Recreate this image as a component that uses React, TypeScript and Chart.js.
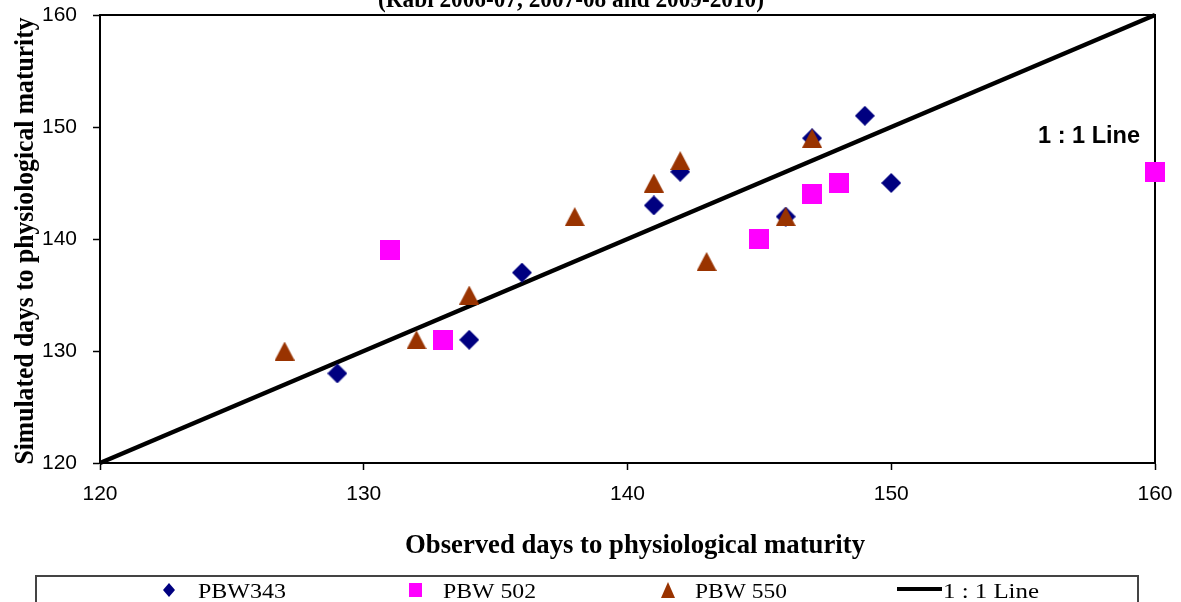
import React, { useEffect, useRef } from "react";
import { Chart, registerables } from "chart.js";

Chart.register(...registerables);

// ---- data ----
const pbw343X = [129, 134, 136, 141, 142, 146, 147, 149, 150];
const pbw343Y = [128, 131, 137, 143, 146, 142, 149, 151, 145];
const pbw502X = [131, 133, 145, 147, 148, 160];
const pbw502Y = [139, 131, 140, 144, 145, 146];
const pbw550X = [127, 132, 134, 138, 141, 142, 143, 146, 147];
const pbw550Y = [130, 131, 135, 142, 145, 147, 138, 142, 149];
const oneToOneX = [120, 160];
const oneToOneY = [120, 160];
const axisMin = 120;
const axisMax = 160;
const tickStep = 10;
const seriesNames = ["PBW343", "PBW 502", "PBW 550", "1 : 1 Line"];
const chartTitle = "(Rabi 2006-07, 2007-08 and 2009-2010)";
const xTitle = "Observed days to physiological maturity";
const yTitle = "Simulated days to physiological maturity";
const lineLabel = "1 : 1 Line";

const NAVY = "#000080";
const MAGENTA = "#FF00FF";
const BROWN = "#993300";

const toPoints = (xs: number[], ys: number[]) => xs.map((x, i) => ({ x, y: ys[i] }));

function makeMarker(kind: string, w: number, h: number, color: string) {
  const c = document.createElement("canvas");
  c.width = w;
  c.height = h;
  const g = c.getContext("2d")!;
  g.fillStyle = color;
  g.beginPath();
  if (kind === "diamond") {
    g.moveTo(w / 2, 0);
    g.lineTo(w, h / 2);
    g.lineTo(w / 2, h);
    g.lineTo(0, h / 2);
  } else if (kind === "square") {
    g.rect(0, 0, w, h);
  } else {
    g.moveTo(w / 2, 0);
    g.lineTo(w, h);
    g.lineTo(0, h);
  }
  g.closePath();
  g.fill();
  return c;
}

function fitText(
  ctx: CanvasRenderingContext2D,
  text: string,
  x: number,
  y: number,
  font: string,
  targetW: number,
  align: CanvasTextAlign,
  rotate = false
) {
  ctx.save();
  ctx.font = font;
  const w = ctx.measureText(text).width;
  const sx = targetW / w;
  ctx.translate(x, y);
  if (rotate) ctx.rotate(-Math.PI / 2);
  ctx.scale(sx, 1);
  ctx.textAlign = align;
  ctx.textBaseline = "alphabetic";
  ctx.fillStyle = "#000";
  ctx.fillText(text, 0, 0);
  ctx.restore();
}

const decorPlugin = {
  id: "decor",
  beforeDatasetsDraw(chart: any) {
    const { ctx, chartArea } = chart;
    ctx.save();
    ctx.strokeStyle = "#000";
    ctx.lineWidth = 2;
    ctx.beginPath();
    ctx.moveTo(chartArea.left, chartArea.top);
    ctx.lineTo(chartArea.right, chartArea.top);
    ctx.lineTo(chartArea.right, chartArea.bottom);
    ctx.stroke();
    ctx.restore();
  },
  afterDraw(chart: any) {
    const ctx: CanvasRenderingContext2D = chart.ctx;
    const serifB = (s: number) => `bold ${s}px "Liberation Serif", "Times New Roman", serif`;
    const serif = (s: number) => `${s}px "Liberation Serif", "Times New Roman", serif`;
    // title (cut off at top)
    fitText(ctx, chartTitle, 571, 7, serifB(26), 386, "center");
    // axis titles
    fitText(ctx, xTitle, 635, 553, serifB(28), 460, "center");
    fitText(ctx, yTitle, 33, 241, serifB(27), 447, "center", true);
    // annotation
    fitText(ctx, lineLabel, 1038, 143, `bold 23px "Liberation Sans", Arial, sans-serif`, 102, "left");

    // legend box
    ctx.save();
    ctx.strokeStyle = "#444";
    ctx.lineWidth = 2;
    ctx.strokeRect(36, 576, 1138 - 36, 60);
    const cy = 590;
    // diamond
    ctx.fillStyle = NAVY;
    ctx.beginPath();
    ctx.moveTo(169, cy - 7);
    ctx.lineTo(175, cy);
    ctx.lineTo(169, cy + 7);
    ctx.lineTo(163, cy);
    ctx.closePath();
    ctx.fill();
    // square
    ctx.fillStyle = MAGENTA;
    ctx.fillRect(409, cy - 7, 13, 14);
    // triangle
    ctx.fillStyle = BROWN;
    ctx.beginPath();
    ctx.moveTo(668, cy - 8);
    ctx.lineTo(675, cy + 8);
    ctx.lineTo(661, cy + 8);
    ctx.closePath();
    ctx.fill();
    // line
    ctx.strokeStyle = "#000";
    ctx.lineWidth = 4;
    ctx.beginPath();
    ctx.moveTo(897, cy - 1);
    ctx.lineTo(942, cy - 1);
    ctx.stroke();
    ctx.restore();
    const lx = [198, 443, 695, 943];
    const lw = [88, 93, 92, 96];
    seriesNames.forEach((n, i) => fitText(ctx, n, lx[i], 598, serif(22), lw[i], "left"));
  },
};

export default function App() {
  const ref = useRef<HTMLCanvasElement>(null);
  useEffect(() => {
    if (!ref.current) return;
    const diamond = makeMarker("diamond", 20, 20, NAVY);
    const square = makeMarker("square", 20, 20, MAGENTA);
    const triangle = makeMarker("triangle", 20, 19, BROWN);
    const tickFont = { family: '"Liberation Sans", Arial, sans-serif', size: 21 };
    const chart = new Chart(ref.current, {
      type: "scatter",
      data: {
        datasets: [
          {
            label: seriesNames[3],
            type: "line",
            data: toPoints(oneToOneX, oneToOneY),
            borderColor: "#000",
            borderWidth: 4.5,
            pointRadius: 0,
            fill: false,
            order: 4,
            clip: false,
          } as any,
          {
            label: seriesNames[0],
            data: toPoints(pbw343X, pbw343Y),
            pointStyle: diamond,
            order: 3,
            clip: false,
          },
          {
            label: seriesNames[1],
            data: toPoints(pbw502X, pbw502Y),
            pointStyle: square,
            order: 2,
            clip: false,
          },
          {
            label: seriesNames[2],
            data: toPoints(pbw550X, pbw550Y),
            pointStyle: triangle,
            order: 1,
            clip: false,
          },
        ],
      },
      options: {
        responsive: false,
        devicePixelRatio: 1,
        animation: false,
        events: [],
        layout: { padding: { left: 0, right: 26, top: 15, bottom: 79 } },
        plugins: { legend: { display: false }, tooltip: { enabled: false }, title: { display: false } },
        scales: {
          x: {
            type: "linear",
            min: axisMin,
            max: axisMax,
            afterFit: (s: any) => {
              s.height = 60;
              s.paddingLeft = 0;
              s.paddingRight = 0;
            },
            ticks: { stepSize: tickStep, color: "#000", font: tickFont, padding: 12 },
            grid: { drawOnChartArea: false, drawTicks: true, tickLength: 7, tickColor: "#000", tickWidth: 1.5 },
            border: { display: true, color: "#000", width: 2 },
          },
          y: {
            type: "linear",
            min: axisMin,
            max: axisMax,
            afterFit: (s: any) => {
              s.width = 100;
              s.paddingTop = 0;
              s.paddingBottom = 0;
            },
            ticks: { stepSize: tickStep, color: "#000", font: tickFont, padding: 16 },
            grid: { drawOnChartArea: false, drawTicks: true, tickLength: 7, tickColor: "#000", tickWidth: 1.5 },
            border: { display: true, color: "#000", width: 2 },
          },
        },
      },
      plugins: [decorPlugin],
    } as any);
    return () => chart.destroy();
  }, []);
  return (
    <div style={{ position: "absolute", left: 0, top: 0, width: 1181, height: 602, background: "#fff", overflow: "hidden" }}>
      <canvas ref={ref} width={1181} height={602} style={{ display: "block" }} />
    </div>
  );
}
